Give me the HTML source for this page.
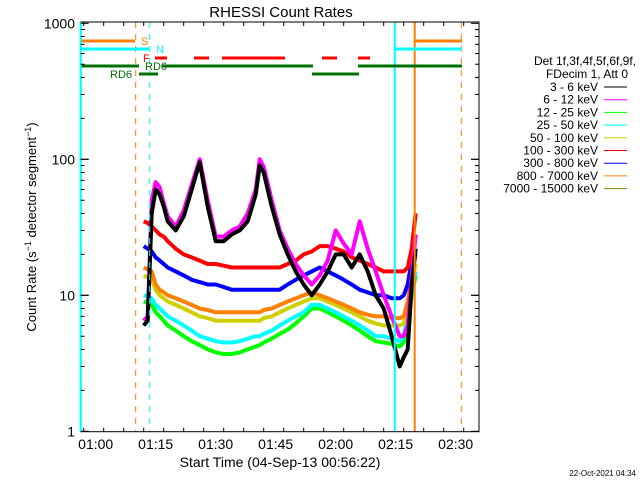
<!DOCTYPE html>
<html><head><meta charset="utf-8"><style>
body{margin:0;background:#fff;}
svg{display:block;font-family:"Liberation Sans",sans-serif;}
</style></head><body>
<svg id="chart" width="640" height="480" viewBox="0 0 640 480">
<rect width="640" height="480" fill="#fff"/>
<text x="281" y="17" font-size="15" text-anchor="middle">RHESSI Count Rates</text>
<g id="grid"></g>
<g id="series"></g>
<g id="overlay"></g>
<text x="36" y="227" font-size="13" text-anchor="middle" transform="rotate(-90 36 227)">Count Rate (s<tspan baseline-shift="super" font-size="9">−1</tspan> detector segment<tspan baseline-shift="super" font-size="9">−1</tspan>)</text>
<text x="280" y="467" font-size="14" text-anchor="middle">Start Time (04-Sep-13 00:56:22)</text>
<text x="636" y="476" font-size="8" text-anchor="end">22-Oct-2021 04:34</text>
<g id="legend" font-size="12" text-anchor="end"></g>
</svg>
<script>
const times=[12,13,14,15,16,17,18,20,22,24,26,28,30,32,34,36,38,40,41,42,44,46,48,50,52,54,56,58,60,62,64,66,68,70,72,74,76,77,78,79,80];
const black=  [6,6.5,40,60,55,45,35,30,38,60,95,45,25,25,28,30,35,55,90,80,45,28,20,15,12,10,12,15,20,20,16,20,15,10,8,5,3,3.5,4,12,22];
const magenta=[6.5,7,50,68,62,48,38,32,42,65,100,50,27,27,30,32,40,60,100,88,50,30,22,17,14,12,14,18,30,24,20,35,22,15,10,7,5,5,6,14,28];
const red=    [35,34,32,30,28,27,25,22,20,19,18,17,17,16.5,16,16,16,16,16,16,16,16,17,18,20,21,23,23,22,21,19,18,17,16,15,15,15,15,16,22,40];
const blue=   [23,22,21,19,18,17,16,15,14,13,12.5,12,12,11.5,11,11,11,11,11,11,11,11,12,13,14,15,16,15,14,13,12,11,10.5,10,10,9.5,9.5,10,12,18,28];
const orange= [16,15.5,15,12,11,10.5,10,9.5,9,8.5,8,7.8,7.5,7.5,7.5,7.5,7.5,7.5,7.5,7.8,8,8.5,9,9.5,10,10.5,10,9.5,9,8.5,8,7.5,7.2,7,7,6.8,6.8,7,9,14,20];
const yellow= [14,13.5,13,11,10,9.5,9,8.5,8,7.5,7,6.8,6.5,6.5,6.5,6.5,6.5,6.5,6.5,6.8,7,7.5,8,8.5,9,9.5,9.5,9,8.5,8,7.5,7,6.5,6.2,6,6,6,6.2,8,12,17];
const cyan=   [10,9.8,9.5,8.5,8,7.5,7,6.5,6,5.5,5,4.8,4.6,4.5,4.5,4.6,4.8,5,5,5.2,5.5,6,6.5,7,7.5,8.5,8.5,8,7.5,7,6.5,6,5.5,5,5,4.8,4.6,5,7,11,15];
const green=  [9,8.8,8.5,7.5,7,6.5,6,5.5,5,4.6,4.3,4,3.8,3.7,3.7,3.8,4,4.2,4.3,4.5,4.8,5.2,5.6,6.2,7,8,8,7.5,7,6.5,6,5.5,5,4.6,4.5,4.4,4.2,4.5,6.5,10,14];
const xTickLabels=["01:00","01:15","01:30","01:45","02:00","02:15","02:30"];
const yTickLabels=["1","10","100","1000"];
const legendLabels=["3 - 6 keV","6 - 12 keV","12 - 25 keV","25 - 50 keV","50 - 100 keV","100 - 300 keV","300 - 800 keV","800 - 7000 keV","7000 - 15000 keV"];
const legendColors=["#000","#f0f","#0f0","#0ff","#d0d000","#f00","#00f","#ff8000","#808000"];

const NS="http://www.w3.org/2000/svg";
const L=80.7,R=479,T=22,B=431.7;
function X(t){return 95.7+t*4;}
function Y(v){return 431.3-Math.log10(v)*136;}
function mk(tag,attrs,parent){const e=document.createElementNS(NS,tag);for(const k in attrs)e.setAttribute(k,attrs[k]);parent.appendChild(e);return e;}
const grid=document.getElementById('grid'),ser=document.getElementById('series'),ov=document.getElementById('overlay'),leg=document.getElementById('legend');

const seriesList=[[green,"#0f0","series-12-25kev"],[cyan,"#0ff","series-25-50kev"],[yellow,"#d0d000","series-50-100kev"],[orange,"#ff8000","series-800-7000kev"],[blue,"#00f","series-300-800kev"],[red,"#f00","series-100-300kev"],[magenta,"#f0f","series-6-12kev"],[black,"#000","series-3-6kev"]];
seriesList.forEach(s=>{
  const pts=times.map((t,i)=>X(t).toFixed(1)+","+Y(s[0][i]).toFixed(1)).join(" ");
  const p=mk('polyline',{points:pts,fill:"none",stroke:s[1],"stroke-width":4,"stroke-linejoin":"round"},ser);
  
  
});

const vls=[[80.7,"#0ff",null,2],[135.7,"#ff8000","6,6",1],[149.7,"#0ff","6,6",1],[394.7,"#0ff",null,2],[414.7,"#ff8000",null,2],[461.3,"#ff8000","6,6",1]];
vls.forEach(v=>{const a={x1:v[0],x2:v[0],y1:T,y2:B,stroke:v[1],"stroke-width":v[3]};if(v[2])a["stroke-dasharray"]=v[2];
  const l=mk('line',a,ov);
  
  });

const bars=[[81,135,41,"#ff8000"],[415,462,41,"#ff8000"],[81,149,49,"#0ff"],[395,462,49,"#0ff"],
[155,167,58,"#f00"],[194,209,58,"#f00"],[222,285,58,"#f00"],[322,337,58,"#f00"],[358,370,58,"#f00"],
[81,139,66,"#007000"],[162,313,66,"#007000"],[358,462,66,"#007000"],[139,158,74,"#007000"],[312,359,74,"#007000"]];
bars.forEach(b=>{const l=mk('line',{x1:b[0],x2:b[1],y1:b[2],y2:b[2],stroke:b[3],"stroke-width":3},ov);
  
  });
[["S",141,45,"#ff8000"],["N",156,53,"#0ff"],["F",143,62,"#f00"],["RD6",145,70,"#007000"],["RD6",110,78,"#007000"]].forEach(f=>{
  const t=mk('text',{x:f[1],y:f[2],fill:f[3],"font-size":11},ov);t.textContent=f[0];
  
  });

const box=mk('rect',{x:L,y:T,width:R-L,height:B-T,fill:"none",stroke:"#000","stroke-width":1},grid);


ov.appendChild(box);
mk('line',{x1:L,x2:L,y1:T,y2:B,stroke:"#0ff","stroke-width":2},ov);

for(let m=-3;m<=100;m+=5){const x=X(m);if(x<L+1||x>R-1)continue;const major=m%15===0;const h=major?8:4;
  mk('line',{x1:x,x2:x,y1:B,y2:B-h,stroke:"#000"},ov);mk('line',{x1:x,x2:x,y1:T,y2:T+h,stroke:"#000"},ov);}
xTickLabels.forEach((s,i)=>{const t=mk('text',{x:X(i*15),y:449,"font-size":14,"text-anchor":"middle"},ov);t.textContent=s;
  
  });
for(let d=0;d<3;d++)for(let k=1;k<=10;k++){const v=k*Math.pow(10,d);const y=Y(v);if(y<T)continue;const major=(k===1||k===10);const h=major?8:4;
  mk('line',{x1:L,x2:L+h,y1:y,y2:y,stroke:"#000"},ov);mk('line',{x1:R,x2:R-h,y1:y,y2:y,stroke:"#000"},ov);}
yTickLabels.forEach((s,i)=>{const t=mk('text',{x:75,y:Y(Math.pow(10,i))+5,"font-size":14,"text-anchor":"end"},ov);t.textContent=s;
  
  });

[["Det 1f,3f,4f,5f,6f,9f,",636,65],["FDecim 1, Att 0",628,78]].forEach(h=>{const t=mk('text',{x:h[1],y:h[2]},leg);t.textContent=h[0];
  
  });
legendLabels.forEach((s,i)=>{const y=91+i*12.7;
  const t=mk('text',{x:598,y:y},leg);t.textContent=s;
  
  
  mk('line',{x1:604,x2:627,y1:y-4,y2:y-4,stroke:legendColors[i],"stroke-width":1},leg);});
</script>
</body></html>
